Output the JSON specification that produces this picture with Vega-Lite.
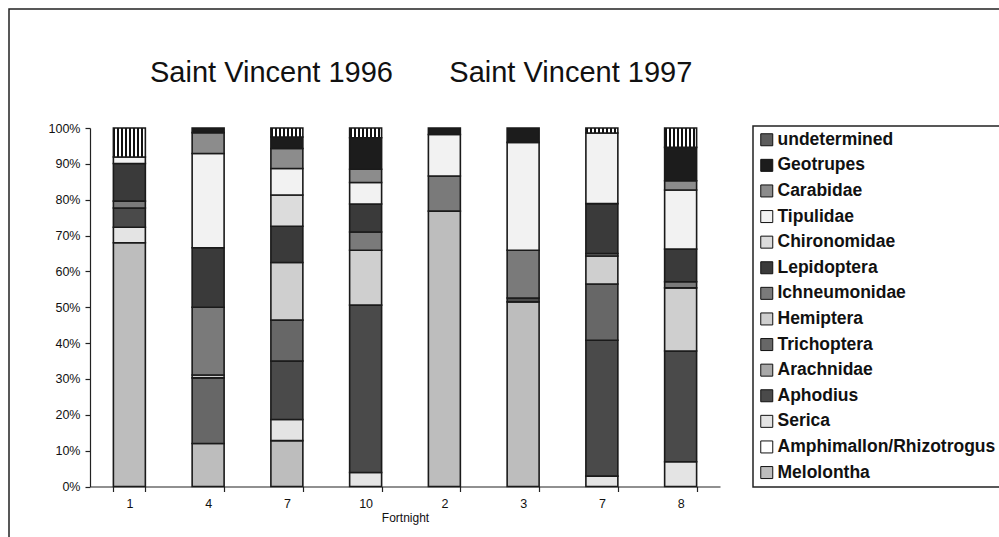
{
  "$schema": "https://vega.github.io/schema/vega-lite/v6.json",
  "width": 991,
  "height": 532,
  "autosize": {"type": "none"},
  "padding": {"left": 9, "top": 9, "right": -1, "bottom": -4},
  "background": "white",
  "config": {
    "view": {"stroke": "#222222", "strokeWidth": 1.5},
    "font": "Liberation Sans",
    "axis": {"grid": false, "domainColor": "#222222", "tickColor": "#222222", "domainWidth": 1.2, "tickWidth": 1.2, "labelFont": "Liberation Sans", "labelFontSize": 12.5, "labelColor": "#111111", "titleFont": "Liberation Sans", "titleFontWeight": "normal", "titleFontSize": 12, "titleColor": "#111111", "tickSize": 5}
  },
  "title": {
    "text": "Saint Vincent 1996\u00a0\u00a0\u00a0\u00a0\u00a0\u00a0\u00a0Saint Vincent 1997",
    "anchor": "start",
    "frame": "group",
    "dx": 141,
    "dy": 102,
    "offset": 0,
    "baseline": "alphabetic",
    "font": "Liberation Sans",
    "fontSize": 29,
    "fontWeight": "normal",
    "color": "#111111"
  },
  "data": {
    "values": [
      {"sample": "1996-1", "taxon": "Melolontha", "pct": 68.0},
      {"sample": "1996-1", "taxon": "Serica", "pct": 4.3},
      {"sample": "1996-1", "taxon": "Aphodius", "pct": 5.4},
      {"sample": "1996-1", "taxon": "Ichneumonidae", "pct": 1.9},
      {"sample": "1996-1", "taxon": "Lepidoptera", "pct": 10.5},
      {"sample": "1996-1", "taxon": "Tipulidae", "pct": 1.8},
      {"sample": "1996-1", "taxon": "undetermined", "pct": 8.1},

      {"sample": "1996-4", "taxon": "Melolontha", "pct": 12.0},
      {"sample": "1996-4", "taxon": "Trichoptera", "pct": 18.3},
      {"sample": "1996-4", "taxon": "Hemiptera", "pct": 0.8},
      {"sample": "1996-4", "taxon": "Ichneumonidae", "pct": 18.9},
      {"sample": "1996-4", "taxon": "Lepidoptera", "pct": 16.6},
      {"sample": "1996-4", "taxon": "Tipulidae", "pct": 26.3},
      {"sample": "1996-4", "taxon": "Carabidae", "pct": 5.8},
      {"sample": "1996-4", "taxon": "Geotrupes", "pct": 1.3},

      {"sample": "1996-7", "taxon": "Melolontha", "pct": 12.8},
      {"sample": "1996-7", "taxon": "Serica", "pct": 5.9},
      {"sample": "1996-7", "taxon": "Aphodius", "pct": 16.3},
      {"sample": "1996-7", "taxon": "Trichoptera", "pct": 11.4},
      {"sample": "1996-7", "taxon": "Hemiptera", "pct": 16.1},
      {"sample": "1996-7", "taxon": "Lepidoptera", "pct": 10.1},
      {"sample": "1996-7", "taxon": "Chironomidae", "pct": 8.7},
      {"sample": "1996-7", "taxon": "Tipulidae", "pct": 7.4},
      {"sample": "1996-7", "taxon": "Carabidae", "pct": 5.6},
      {"sample": "1996-7", "taxon": "Geotrupes", "pct": 3.2},
      {"sample": "1996-7", "taxon": "undetermined", "pct": 2.5},

      {"sample": "1996-10", "taxon": "Serica", "pct": 3.9},
      {"sample": "1996-10", "taxon": "Aphodius", "pct": 46.7},
      {"sample": "1996-10", "taxon": "Hemiptera", "pct": 15.3},
      {"sample": "1996-10", "taxon": "Ichneumonidae", "pct": 5.1},
      {"sample": "1996-10", "taxon": "Lepidoptera", "pct": 7.8},
      {"sample": "1996-10", "taxon": "Tipulidae", "pct": 6.0},
      {"sample": "1996-10", "taxon": "Carabidae", "pct": 3.7},
      {"sample": "1996-10", "taxon": "Geotrupes", "pct": 8.8},
      {"sample": "1996-10", "taxon": "undetermined", "pct": 2.7},

      {"sample": "1997-2", "taxon": "Melolontha", "pct": 76.8},
      {"sample": "1997-2", "taxon": "Ichneumonidae", "pct": 9.8},
      {"sample": "1997-2", "taxon": "Tipulidae", "pct": 11.6},
      {"sample": "1997-2", "taxon": "Geotrupes", "pct": 1.8},

      {"sample": "1997-3", "taxon": "Melolontha", "pct": 51.5},
      {"sample": "1997-3", "taxon": "Aphodius", "pct": 1.1},
      {"sample": "1997-3", "taxon": "Ichneumonidae", "pct": 13.3},
      {"sample": "1997-3", "taxon": "Tipulidae", "pct": 30.1},
      {"sample": "1997-3", "taxon": "Geotrupes", "pct": 4.0},

      {"sample": "1997-7", "taxon": "Serica", "pct": 2.9},
      {"sample": "1997-7", "taxon": "Aphodius", "pct": 37.9},
      {"sample": "1997-7", "taxon": "Trichoptera", "pct": 15.7},
      {"sample": "1997-7", "taxon": "Hemiptera", "pct": 7.8},
      {"sample": "1997-7", "taxon": "Ichneumonidae", "pct": 0.7},
      {"sample": "1997-7", "taxon": "Lepidoptera", "pct": 13.9},
      {"sample": "1997-7", "taxon": "Tipulidae", "pct": 19.7},
      {"sample": "1997-7", "taxon": "undetermined", "pct": 1.4},

      {"sample": "1997-8", "taxon": "Serica", "pct": 6.9},
      {"sample": "1997-8", "taxon": "Aphodius", "pct": 30.9},
      {"sample": "1997-8", "taxon": "Hemiptera", "pct": 17.6},
      {"sample": "1997-8", "taxon": "Ichneumonidae", "pct": 1.7},
      {"sample": "1997-8", "taxon": "Lepidoptera", "pct": 9.1},
      {"sample": "1997-8", "taxon": "Tipulidae", "pct": 16.5},
      {"sample": "1997-8", "taxon": "Carabidae", "pct": 2.6},
      {"sample": "1997-8", "taxon": "Geotrupes", "pct": 9.3},
      {"sample": "1997-8", "taxon": "undetermined", "pct": 5.4}
    ]
  },
  "transform": [
    {"calculate": "indexof(['Melolontha','Amphimallon/Rhizotrogus','Serica','Aphodius','Arachnidae','Trichoptera','Hemiptera','Ichneumonidae','Lepidoptera','Chironomidae','Tipulidae','Carabidae','Geotrupes','undetermined'], datum.taxon)", "as": "stackOrder"}
  ],
  "mark": {"type": "bar", "stroke": "#1a1a1a", "strokeWidth": 1.6},
  "encoding": {
    "x": {
      "field": "sample",
      "type": "nominal",
      "sort": ["1996-1", "1996-4", "1996-7", "1996-10", "1997-2", "1997-3", "1997-7", "1997-8"],
      "scale": {"range": [81, 711], "paddingInner": 0.594, "paddingOuter": 0.297},
      "axis": {"title": "Fortnight", "labelExpr": "split(datum.label, '-')[1]", "labelAngle": 0, "offset": -54.5, "tickBand": "extent", "labelPadding": 6, "titlePadding": 2}
    },
    "y": {
      "field": "pct",
      "type": "quantitative",
      "stack": "normalize",
      "scale": {"range": [477.5, 119]},
      "axis": {"title": null, "format": ".0%", "values": [0, 0.1, 0.2, 0.3, 0.4, 0.5, 0.6, 0.7, 0.8, 0.9, 1], "offset": -81, "labelPadding": 5}
    },
    "color": {
      "condition": {
        "test": "datum.taxon === 'undetermined'",
        "value": {"gradient": "linear", "x1": 0, "y1": 0, "x2": 1, "y2": 0, "stops": [
          {"offset": 0, "color": "#111111"}, {"offset": 0.0625, "color": "#111111"}, {"offset": 0.0625, "color": "#ffffff"}, {"offset": 0.125, "color": "#ffffff"},
          {"offset": 0.125, "color": "#111111"}, {"offset": 0.1875, "color": "#111111"}, {"offset": 0.1875, "color": "#ffffff"}, {"offset": 0.25, "color": "#ffffff"},
          {"offset": 0.25, "color": "#111111"}, {"offset": 0.3125, "color": "#111111"}, {"offset": 0.3125, "color": "#ffffff"}, {"offset": 0.375, "color": "#ffffff"},
          {"offset": 0.375, "color": "#111111"}, {"offset": 0.4375, "color": "#111111"}, {"offset": 0.4375, "color": "#ffffff"}, {"offset": 0.5, "color": "#ffffff"},
          {"offset": 0.5, "color": "#111111"}, {"offset": 0.5625, "color": "#111111"}, {"offset": 0.5625, "color": "#ffffff"}, {"offset": 0.625, "color": "#ffffff"},
          {"offset": 0.625, "color": "#111111"}, {"offset": 0.6875, "color": "#111111"}, {"offset": 0.6875, "color": "#ffffff"}, {"offset": 0.75, "color": "#ffffff"},
          {"offset": 0.75, "color": "#111111"}, {"offset": 0.8125, "color": "#111111"}, {"offset": 0.8125, "color": "#ffffff"}, {"offset": 0.875, "color": "#ffffff"},
          {"offset": 0.875, "color": "#111111"}, {"offset": 0.9375, "color": "#111111"}, {"offset": 0.9375, "color": "#ffffff"}, {"offset": 1, "color": "#ffffff"}
        ]}
      },
      "field": "taxon",
      "type": "nominal",
      "scale": {
        "domain": ["undetermined", "Geotrupes", "Carabidae", "Tipulidae", "Chironomidae", "Lepidoptera", "Ichneumonidae", "Hemiptera", "Trichoptera", "Arachnidae", "Aphodius", "Serica", "Amphimallon/Rhizotrogus", "Melolontha"],
        "range": ["#5c5c5c", "#1c1c1c", "#8c8c8c", "#f2f2f2", "#dcdcdc", "#3a3a3a", "#7a7a7a", "#cfcfcf", "#676767", "#a8a8a8", "#4a4a4a", "#e4e4e4", "#ffffff", "#bdbdbd"]
      },
      "legend": {
        "orient": "none",
        "legendX": 744,
        "legendY": 117,
        "title": null,
        "symbolType": "square",
        "symbolSize": 144,
        "symbolStrokeColor": "#111111",
        "symbolStrokeWidth": 1,
        "symbolOpacity": 1,
        "labelFont": "Liberation Sans",
        "labelFontSize": 17.5,
        "labelFontWeight": "bold",
        "labelColor": "#111111",
        "labelOffset": 2,
        "labelLimit": 400,
        "rowPadding": 6.6,
        "padding": 5,
        "strokeColor": "#222222",
        "encode": {
          "legend": {"update": {"strokeWidth": {"value": 1.5}}},
          "symbols": {"update": {
            "stroke": {"value": "#111111"},
            "strokeWidth": {"value": 1},
            "opacity": {"value": 1},
            "fill": {"signal": "datum.value === 'undetermined' ? {gradient: 'linear', x1: 0, y1: 0, x2: 1, y2: 0, stops: [{offset: 0, color: '#111111'}, {offset: 0.2, color: '#111111'}, {offset: 0.2, color: '#ffffff'}, {offset: 0.4, color: '#ffffff'}, {offset: 0.4, color: '#111111'}, {offset: 0.6, color: '#111111'}, {offset: 0.6, color: '#ffffff'}, {offset: 0.8, color: '#ffffff'}, {offset: 0.8, color: '#111111'}, {offset: 1, color: '#111111'}]} : scale('color', datum.value)"}
          }}
        }
      }
    },
    "order": {"field": "stackOrder", "type": "quantitative"}
  }
}
